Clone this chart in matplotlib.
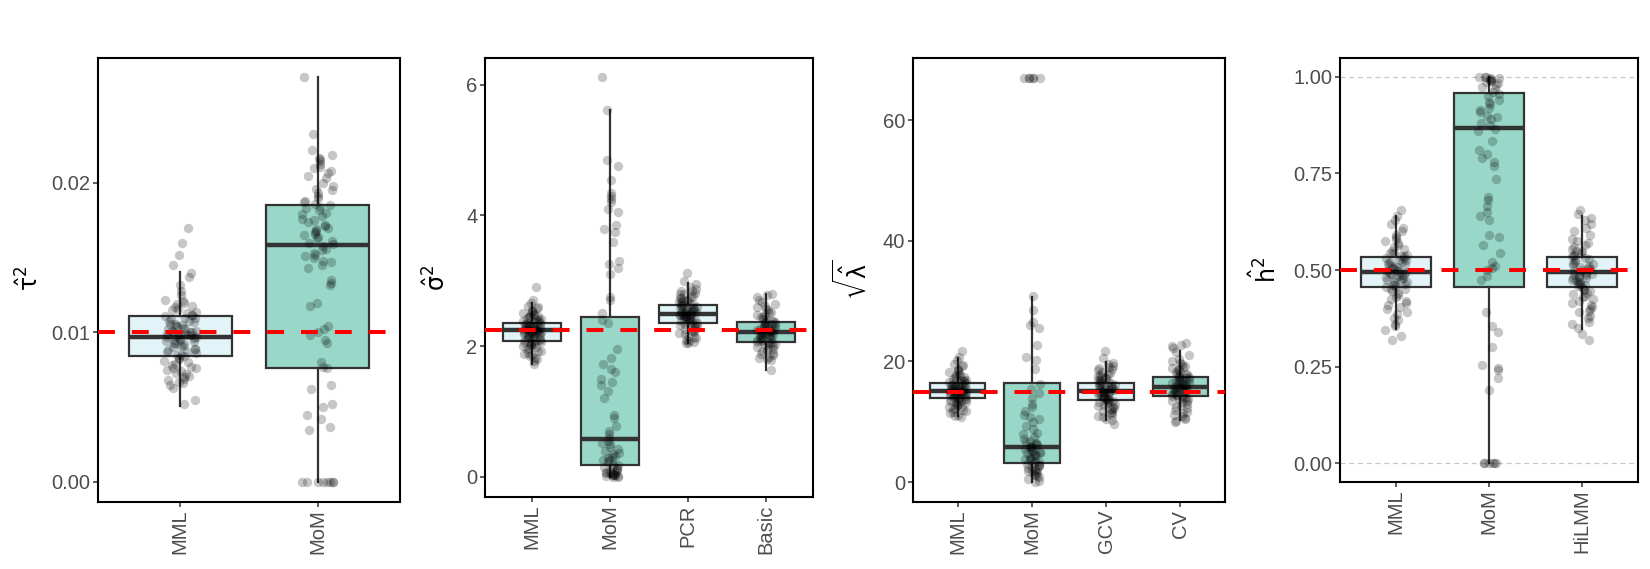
import numpy as np
import matplotlib
matplotlib.use('Agg')
import matplotlib.pyplot as plt

plt.rcParams['font.family'] = ['Liberation Sans', 'DejaVu Sans']

# ---- data ----
tau_methods = ['MML', 'MoM']
tau_truth = 0.01
tau_q1 = [0.00845, 0.0076]
tau_med = [0.00972, 0.01585]
tau_q3 = [0.01109, 0.01855]
tau_lo = [0.0051, 0.0]
tau_hi = [0.01405, 0.0271]
tau_mml = [0.0170, 0.0160, 0.0152, 0.0145, 0.0140, 0.0137, 0.0132, 0.0128, 0.0125, 0.0122,
           0.0121, 0.0120, 0.0119, 0.0118, 0.0117, 0.0116, 0.0115, 0.0114, 0.0113, 0.0112,
           0.0112, 0.0111, 0.0110, 0.0110, 0.0109, 0.0108, 0.0108, 0.0107, 0.0106, 0.0106,
           0.0105, 0.0104, 0.0104, 0.0103, 0.0102, 0.0102, 0.0101, 0.0101, 0.0100, 0.0100,
           0.0100, 0.0099, 0.0099, 0.0099, 0.0098, 0.0098, 0.0097, 0.0097, 0.0097, 0.0096,
           0.0096, 0.0095, 0.0095, 0.0094, 0.0094, 0.0093, 0.0093, 0.0092, 0.0091, 0.0091,
           0.0090, 0.0089, 0.0089, 0.0088, 0.0087, 0.0087, 0.0086, 0.0085, 0.0085, 0.0084,
           0.0083, 0.0082, 0.0081, 0.0080, 0.0079, 0.0078, 0.0077, 0.0076, 0.0076, 0.0075,
           0.0074, 0.0073, 0.0072, 0.0071, 0.0070, 0.0069, 0.0068, 0.0067, 0.0066, 0.0065,
           0.0063, 0.0055, 0.0052]
tau_mom = [0.0271, 0.0233, 0.0222, 0.0219, 0.0217, 0.0216, 0.0215, 0.0213, 0.0211, 0.0210,
           0.0208, 0.0207, 0.0205, 0.0203, 0.0200, 0.0198, 0.0196, 0.0195, 0.0193, 0.0191,
           0.0190, 0.0188, 0.0187, 0.0186, 0.0185, 0.0184, 0.0183, 0.0182, 0.0180, 0.0179,
           0.0178, 0.0176, 0.0175, 0.0174, 0.0172, 0.0171, 0.0170, 0.0169, 0.0168, 0.0167,
           0.0166, 0.0165, 0.0164, 0.0163, 0.0161, 0.0160, 0.0159, 0.0158, 0.0156, 0.0155,
           0.0153, 0.0152, 0.0151, 0.0150, 0.0148, 0.0147, 0.0145, 0.0143, 0.0135, 0.0133,
           0.0132, 0.0120, 0.0118, 0.0104, 0.0102, 0.0100, 0.0098, 0.0095, 0.0093, 0.0080,
           0.0077, 0.0076, 0.0065, 0.0062, 0.0052, 0.0050, 0.0045, 0.0042, 0.0037, 0.0035,
           0.0, 0.0, 0.0, 0.0, 0.0, 0.0, 0.0, 0.0]

sig_methods = ['MML', 'MoM', 'PCR', 'Basic']
sig_truth = 2.24
sig_q1 = [2.08, 0.18, 2.35, 2.07]
sig_med = [2.24, 0.58, 2.49, 2.21]
sig_q3 = [2.36, 2.44, 2.63, 2.37]
sig_lo = [1.73, 0.0, 2.05, 1.64]
sig_hi = [2.66, 5.61, 2.97, 2.79]
sig_mml = [2.90, 2.70, 2.66, 2.62, 2.60, 2.58, 2.56, 2.54, 2.52, 2.51, 2.49, 2.48, 2.47, 2.46,
           2.45, 2.44, 2.43, 2.42, 2.41, 2.40, 2.39, 2.38, 2.37, 2.36, 2.36, 2.35, 2.34, 2.33,
           2.33, 2.32, 2.31, 2.30, 2.30, 2.29, 2.28, 2.28, 2.27, 2.26, 2.26, 2.25, 2.25, 2.24,
           2.24, 2.23, 2.23, 2.22, 2.22, 2.21, 2.21, 2.20, 2.20, 2.19, 2.18, 2.18, 2.17, 2.16,
           2.16, 2.15, 2.14, 2.13, 2.12, 2.11, 2.10, 2.09, 2.08, 2.07, 2.06, 2.05, 2.04, 2.03,
           2.02, 2.01, 2.00, 1.98, 1.97, 1.95, 1.93, 1.92, 1.90, 1.88, 1.86, 1.85, 1.82, 1.80,
           1.77, 1.73]
sig_mom = [6.12, 5.61, 4.85, 4.75, 4.55, 4.35, 4.30, 4.25, 4.20, 4.10, 4.05, 3.85, 3.80, 3.75,
           3.60, 3.30, 3.25, 3.20, 3.10, 2.75, 2.70, 2.50, 2.40, 2.35, 1.95, 1.82, 1.72, 1.65,
           1.60, 1.50, 1.45, 1.40, 1.32, 1.20, 0.95, 0.90, 0.78, 0.70, 0.65, 0.60, 0.55, 0.52,
           0.50, 0.45, 0.42, 0.40, 0.37, 0.35, 0.32, 0.30, 0.28, 0.26, 0.25, 0.22, 0.20, 0.18,
           0.16, 0.15, 0.13, 0.12, 0.10, 0.09, 0.08, 0.07, 0.06, 0.05, 0.05, 0.04, 0.03, 0.03,
           0.02, 0.02, 0.01, 0.01, 0.0, 0.0]
sig_pcr = [3.12, 3.00, 2.95, 2.90, 2.88, 2.85, 2.84, 2.82, 2.80, 2.79, 2.77, 2.76, 2.74, 2.73,
           2.71, 2.70, 2.69, 2.68, 2.67, 2.66, 2.65, 2.64, 2.63, 2.62, 2.61, 2.60, 2.59, 2.58,
           2.57, 2.57, 2.56, 2.55, 2.54, 2.53, 2.53, 2.52, 2.51, 2.50, 2.50, 2.49, 2.49, 2.48,
           2.48, 2.47, 2.46, 2.46, 2.45, 2.44, 2.44, 2.43, 2.42, 2.41, 2.41, 2.40, 2.39, 2.38,
           2.37, 2.36, 2.35, 2.34, 2.33, 2.32, 2.30, 2.29, 2.28, 2.26, 2.25, 2.23, 2.22, 2.20,
           2.18, 2.16, 2.14, 2.12, 2.10, 2.08, 2.07, 2.05, 2.04]
sig_basic = [2.80, 2.78, 2.75, 2.70, 2.68, 2.65, 2.62, 2.60, 2.57, 2.55, 2.52, 2.50, 2.48,
             2.47, 2.45, 2.44, 2.42, 2.41, 2.39, 2.38, 2.37, 2.36, 2.35, 2.34, 2.33, 2.32,
             2.31, 2.30, 2.29, 2.28, 2.27, 2.26, 2.25, 2.25, 2.24, 2.23, 2.22, 2.22, 2.21,
             2.21, 2.20, 2.19, 2.18, 2.17, 2.17, 2.16, 2.15, 2.14, 2.13, 2.12, 2.11, 2.10,
             2.09, 2.08, 2.07, 2.06, 2.05, 2.04, 2.03, 2.01, 2.00, 1.98, 1.97, 1.95, 1.94,
             1.92, 1.90, 1.88, 1.86, 1.84, 1.82, 1.80, 1.78, 1.63]

lam_methods = ['MML', 'MoM', 'GCV', 'CV']
lam_truth = 15
lam_q1 = [13.9, 3.1, 13.6, 14.25]
lam_med = [15.1, 5.85, 15.1, 15.8]
lam_q3 = [16.35, 16.35, 16.35, 17.35]
lam_lo = [11.0, 0.0, 10.3, 10.3]
lam_hi = [20.5, 30.7, 19.9, 21.8]
lam_mml = [21.7, 20.8, 20.2, 19.6, 19.4, 19.2, 18.8, 18.6, 18.4, 18.2, 18.0, 17.8, 17.7, 17.5,
           17.4, 17.2, 17.1, 17.0, 16.9, 16.8, 16.7, 16.6, 16.5, 16.4, 16.3, 16.2, 16.1, 16.0,
           16.0, 15.9, 15.8, 15.8, 15.7, 15.6, 15.6, 15.5, 15.4, 15.4, 15.3, 15.2, 15.2, 15.1,
           15.1, 15.0, 15.0, 14.9, 14.9, 14.8, 14.7, 14.7, 14.6, 14.5, 14.5, 14.4, 14.3, 14.3,
           14.2, 14.1, 14.0, 14.0, 13.9, 13.8, 13.7, 13.6, 13.5, 13.4, 13.3, 13.2, 13.1, 13.0,
           12.8, 12.7, 12.5, 12.4, 12.2, 12.1, 11.9, 11.8, 11.6, 11.4, 11.2, 11.0, 10.8]
lam_mom = [67.0, 67.0, 67.0, 67.0, 67.0, 67.0, 30.8, 28.5, 26.5, 26.0, 25.5, 22.8, 20.8, 20.2,
           18.7, 16.3, 15.5, 14.8, 13.9, 13.0, 12.4, 11.8, 11.2, 10.8, 10.4, 9.9, 9.3, 8.8, 8.2,
           7.9, 7.5, 7.1, 6.8, 6.6, 6.5, 6.3, 6.2, 6.0, 5.9, 5.8, 5.6, 5.5, 5.3, 5.2, 5.0, 4.9,
           4.8, 4.6, 4.5, 4.3, 4.2, 4.0, 3.9, 3.7, 3.5, 3.4, 3.2, 3.0, 2.9, 2.8, 2.6, 2.5, 2.3,
           2.2, 2.0, 1.9, 1.8, 1.6, 1.5, 1.3, 1.2, 1.0, 0.8, 0.5, 0.2, 0.0]
lam_gcv = [21.7, 20.5, 19.8, 19.5, 19.3, 19.1, 18.9, 18.7, 18.5, 18.3, 18.1, 17.9, 17.8, 17.6,
           17.5, 17.3, 17.2, 17.0, 16.9, 16.8, 16.6, 16.5, 16.4, 16.3, 16.2, 16.1, 16.0, 15.9,
           15.8, 15.7, 15.6, 15.5, 15.4, 15.3, 15.3, 15.2, 15.1, 15.0, 15.0, 14.9, 14.8, 14.7,
           14.6, 14.5, 14.4, 14.3, 14.2, 14.1, 14.0, 13.9, 13.8, 13.7, 13.6, 13.5, 13.4, 13.3,
           13.2, 13.1, 12.9, 12.8, 12.6, 12.4, 12.3, 12.1, 12.0, 11.8, 11.6, 11.4, 11.2, 11.0,
           10.8, 10.5, 10.3, 9.7]
lam_cv = [23.0, 22.8, 22.6, 22.2, 21.6, 21.0, 20.4, 20.1, 19.8, 19.5, 19.3, 19.1, 18.9, 18.7,
          18.5, 18.3, 18.2, 18.0, 17.9, 17.8, 17.6, 17.5, 17.4, 17.3, 17.2, 17.1, 17.0, 16.9,
          16.8, 16.7, 16.6, 16.5, 16.4, 16.3, 16.2, 16.1, 16.0, 15.9, 15.8, 15.8, 15.7, 15.6,
          15.5, 15.4, 15.3, 15.2, 15.1, 15.0, 14.9, 14.8, 14.7, 14.6, 14.5, 14.4, 14.3, 14.2,
          14.1, 14.0, 13.8, 13.7, 13.5, 13.4, 13.2, 13.0, 12.8, 12.5, 12.2, 12.0, 11.7, 11.5,
          11.2, 11.0, 10.7, 10.5, 10.2, 10.0]

h2_methods = ['MML', 'MoM', 'HiLMM']
h2_truth = 0.5
h2_q1 = [0.457, 0.457, 0.457]
h2_med = [0.494, 0.867, 0.494]
h2_q3 = [0.534, 0.958, 0.534]
h2_lo = [0.346, 0.0, 0.346]
h2_hi = [0.64, 1.0, 0.64]
h2_mml = [0.655, 0.64, 0.63, 0.62, 0.61, 0.60, 0.59, 0.585, 0.58, 0.575, 0.57, 0.565, 0.56,
          0.555, 0.55, 0.545, 0.543, 0.54, 0.537, 0.535, 0.532, 0.53, 0.527, 0.525, 0.522,
          0.52, 0.518, 0.515, 0.512, 0.51, 0.508, 0.505, 0.503, 0.50, 0.498, 0.497, 0.495,
          0.493, 0.49, 0.488, 0.487, 0.485, 0.483, 0.48, 0.478, 0.475, 0.473, 0.47, 0.468,
          0.465, 0.462, 0.46, 0.457, 0.455, 0.452, 0.45, 0.445, 0.44, 0.435, 0.43, 0.425,
          0.42, 0.415, 0.41, 0.405, 0.40, 0.39, 0.385, 0.375, 0.37, 0.36, 0.355, 0.345,
          0.33, 0.32]
h2_mom = [1.0, 1.0, 1.0, 0.998, 0.997, 0.995, 0.993, 0.99, 0.99, 0.988, 0.985, 0.98, 0.975,
          0.97, 0.96, 0.955, 0.95, 0.94, 0.935, 0.93, 0.92, 0.915, 0.91, 0.90, 0.895, 0.89,
          0.88, 0.875, 0.865, 0.86, 0.835, 0.81, 0.80, 0.79, 0.78, 0.77, 0.735, 0.69, 0.68,
          0.665, 0.65, 0.64, 0.63, 0.59, 0.585, 0.565, 0.545, 0.52, 0.51, 0.505, 0.50, 0.485,
          0.475, 0.39, 0.355, 0.34, 0.30, 0.255, 0.245, 0.24, 0.22, 0.19, 0.0, 0.0, 0.0, 0.0,
          0.0, 0.0]
h2_hilmm = [0.655, 0.645, 0.635, 0.63, 0.62, 0.61, 0.60, 0.59, 0.58, 0.575, 0.57, 0.565,
            0.56, 0.555, 0.55, 0.548, 0.545, 0.54, 0.537, 0.535, 0.532, 0.528, 0.525, 0.522,
            0.519, 0.516, 0.513, 0.51, 0.507, 0.505, 0.502, 0.50, 0.497, 0.495, 0.493, 0.49,
            0.488, 0.486, 0.484, 0.482, 0.48, 0.478, 0.475, 0.473, 0.47, 0.468, 0.465, 0.463,
            0.46, 0.458, 0.455, 0.452, 0.448, 0.445, 0.44, 0.437, 0.433, 0.43, 0.425, 0.42,
            0.415, 0.41, 0.405, 0.40, 0.395, 0.39, 0.38, 0.375, 0.365, 0.36, 0.35, 0.335, 0.32]

# ---- styling ----
W, H = 1650, 569
light = '#E2F4F7'
teal = '#99D8C9'
edge = '#333333'

fig = plt.figure(figsize=(W / 100, H / 100), dpi=100)


def px_axes(x0, y0, x1, y1):
    return fig.add_axes([x0 / W, 1 - y1 / H, (x1 - x0) / W, (y1 - y0) / H])


def jitter(n, seed):
    # fixed, irregular horizontal spread in [-1, 1] (position only)
    k = np.arange(n) + 1.0
    h = np.sin(k * 12.9898 + seed * 78.233) * 43758.5453
    return (h - np.floor(h)) * 2 - 1


def panel(rect, methods, groups, q1, med, q3, lo, hi, truth, ylim, yticks, yticklabels,
          ylabel, lab_xy, guides=None):
    ax = px_axes(*rect)
    pos = np.arange(1, len(methods) + 1)
    stats = []
    for i in range(len(methods)):
        stats.append(dict(med=med[i], q1=q1[i], q3=q3[i], whislo=lo[i], whishi=hi[i], fliers=[]))
    if guides is not None:
        for g in guides:
            ax.axhline(g, color='#C8C8C8', lw=0.9, ls=(0, (4, 3)), zorder=0)
    bp = ax.bxp(stats, positions=pos, widths=0.75, patch_artist=True, showcaps=False,
                showfliers=False,
                boxprops=dict(edgecolor=edge, linewidth=1.6),
                medianprops=dict(color=edge, linewidth=3.2, solid_capstyle='butt'),
                whiskerprops=dict(color=edge, linewidth=1.6))
    for i, b in enumerate(bp['boxes']):
        b.set_facecolor(light if i % 2 == 0 else teal)
        b.set_zorder(2)
    for m in bp['medians']:
        m.set_zorder(3)
    for w in bp['whiskers']:
        w.set_zorder(2)
    for i, vals in enumerate(groups):
        vals = np.asarray(vals)
        off = jitter(len(vals), i + 1)
        ax.scatter(pos[i] + 0.12 * off, vals, s=46, color='black', alpha=0.22,
                   linewidths=0, zorder=4)
    ax.axhline(truth, color='red', lw=2.9, dashes=(4.2, 4.2), zorder=5)
    ax.set_xlim(0.4, len(methods) + 0.6)
    ax.set_ylim(*ylim)
    ax.set_xticks(pos)
    ax.set_xticklabels(methods, rotation=90, fontsize=14.5, color='#4D4D4D')
    ax.set_yticks(yticks)
    ax.set_yticklabels(yticklabels, fontsize=14.5, color='#4D4D4D')
    ax.tick_params(length=3.5, width=1.1, color=edge, pad=2)
    for s in ax.spines.values():
        s.set_linewidth(1.5)
        s.set_color('black')
    fig.text(lab_xy[0] / W, 1 - lab_xy[1] / H, ylabel, rotation=90, fontsize=17,
             ha='center', va='center')
    return ax


panel((98, 58, 400, 502), tau_methods, [tau_mml, tau_mom], tau_q1, tau_med, tau_q3,
      tau_lo, tau_hi, tau_truth, (-0.00134, 0.02836), [0, 0.01, 0.02],
      ['0.00', '0.01', '0.02'], r'$\hat{\mathrm{\tau}}^2$', (30, 278))

panel((485, 58, 813, 497), sig_methods, [sig_mml, sig_mom, sig_pcr, sig_basic], sig_q1,
      sig_med, sig_q3, sig_lo, sig_hi, sig_truth, (-0.31, 6.41), [0, 2, 4, 6],
      ['0', '2', '4', '6'], r'$\hat{\mathrm{\sigma}}^2$', (437, 278))

panel((913, 58, 1225, 502), lam_methods, [lam_mml, lam_mom, lam_gcv, lam_cv], lam_q1,
      lam_med, lam_q3, lam_lo, lam_hi, lam_truth, (-3.3, 70.3), [0, 20, 40, 60],
      ['0', '20', '40', '60'], r'$\sqrt{\hat{\mathrm{\lambda}}}$', (853, 280))

panel((1340, 58, 1638, 482), h2_methods, [h2_mml, h2_mom, h2_hilmm], h2_q1, h2_med, h2_q3,
      h2_lo, h2_hi, h2_truth, (-0.049, 1.049), [0, 0.25, 0.5, 0.75, 1.0],
      ['0.00', '0.25', '0.50', '0.75', '1.00'], r'$\hat{\mathrm{h}}^2$', (1265, 270),
      guides=[0.0, 1.0])

fig.savefig('out.png', dpi=100)
